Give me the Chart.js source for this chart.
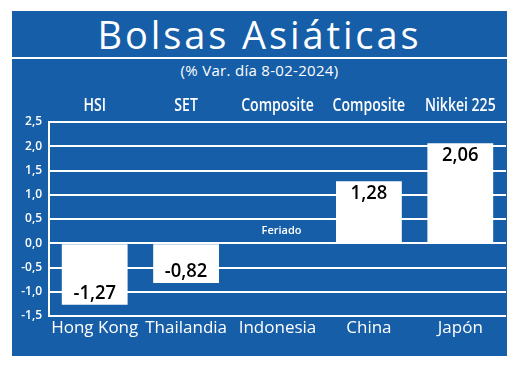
<!DOCTYPE html>
<html>
<head>
<meta charset="utf-8">
<script src="https://cdn.jsdelivr.net/npm/chart.js@4"></script>
<style>
  body { margin: 0; background: #fff; width: 520px; height: 368px; overflow: hidden; position: relative; }
  #panel { position: absolute; left: 12px; top: 11px; width: 495px; height: 345px; background: #165ea7; }
  #title { position: absolute; left: 12px; width: 495px; top: 8px; text-align: center; color: #fff;
    font-family: "Open Sans", sans-serif; font-size: 38px; letter-spacing: 2.9px; line-height: 52px; margin: 0; font-weight: 500; }
  #rule { position: absolute; left: 12px; width: 495px; top: 57px; height: 2px; background: #fff; }
  #subtitle { position: absolute; left: 12px; width: 495px; top: 61px; text-align: center; color: #fff;
    font-family: "Open Sans", sans-serif; font-size: 15px; line-height: 18px; letter-spacing: 0.3px; }
  #wrap { position: absolute; left: 0; top: 0; width: 520px; height: 368px; }
</style>
</head>
<body>
<div id="panel"></div>
<h1 id="title">Bolsas Asiáticas</h1>
<div id="rule"></div>
<div id="subtitle">(% Var. día 8-02-2024)</div>
<div id="wrap"><canvas id="chart" width="520" height="368"></canvas></div>
<script>
// data
let countries = ["Hong Kong", "Thailandia", "Indonesia", "China", "Japón"];
let indexNames = ["HSI", "SET", "Composite", "Composite", "Nikkei 225"];
let changes = [-1.27, -0.82, null, 1.28, 2.06];
let notes = ["", "", "Feriado", "", ""];

function comma(v, d) {
  return v.toFixed(d).replace(".", ",");
}

// value labels inside the bars, holiday note, and the index names above (condensed)
const barLabels = {
  id: "barLabels",
  afterDatasetsDraw(chart) {
    let ctx = chart.ctx;
    let meta = chart.getDatasetMeta(0);
    let x = chart.scales.x;
    let y = chart.scales.y;
    ctx.save();
    ctx.textAlign = "center";
    ctx.textBaseline = "middle";
    meta.data.forEach((bar, i) => {
      let v = changes[i];
      if (v === null) {
        if (notes[i]) {
          ctx.fillStyle = "#fff";
          ctx.font = "600 11px 'Open Sans', sans-serif";
          ctx.fillText(notes[i], bar.x + 4, y.getPixelForValue(0) - 12);
        }
        return;
      }
      ctx.fillStyle = "#000";
      ctx.font = "600 20px 'Open Sans', sans-serif";
      let off = v < 0 ? -12 : 12;
      ctx.save();
      ctx.translate(bar.x, bar.y + off);
      ctx.scale(0.92, 1);
      ctx.fillText(comma(v, 2), 0, 0);
      ctx.restore();
    });
    // index names on top, squeezed horizontally like a condensed face
    ctx.fillStyle = "#fff";
    ctx.font = "600 18px 'Open Sans', sans-serif";
    indexNames.forEach((name, i) => {
      ctx.save();
      ctx.translate(x.getPixelForValue(i), chart.chartArea.top - 16);
      ctx.scale(0.78, 1);
      ctx.fillText(name, 0, 0);
      ctx.restore();
    });
    ctx.restore();
  }
};

let ctx = document.getElementById("chart").getContext("2d");
new Chart(ctx, {
  type: "bar",
  data: {
    labels: countries,
    datasets: [{
      data: changes,
      backgroundColor: "#ffffff",
      borderWidth: 0,
      barPercentage: 0.72,
      categoryPercentage: 1
    }]
  },
  options: {
    responsive: false,
    animation: false,
    layout: { padding: { left: 12, right: 14, top: 122, bottom: 12 } },
    plugins: { legend: { display: false }, tooltip: { enabled: false } },
    scales: {
      x: {
        grid: { display: false, drawTicks: false },
        border: { display: false },
        ticks: { color: "#fff", padding: 2, maxRotation: 0, minRotation: 0, autoSkip: false,
          font: { family: "'Open Sans', sans-serif", size: 17 } },
        afterFit(s) { s.height = 40; s.paddingLeft = 0; s.paddingRight = 0; }
      },
      y: {
        min: -1.5,
        max: 2.5,
        ticks: {
          stepSize: 0.5,
          color: "#fff",
          padding: 7,
          font: { family: "'Open Sans', sans-serif", size: 12, weight: "600" },
          callback: v => comma(v, 1)
        },
        grid: { color: "#ffffff", lineWidth: 2, drawTicks: false },
        border: { color: "#ffffff", width: 2 },
        afterFit(s) { s.width = 37; s.paddingTop = 0; s.paddingBottom = 0; }
      }
    }
  },
  plugins: [barLabels]
});
</script>
</body>
</html>
